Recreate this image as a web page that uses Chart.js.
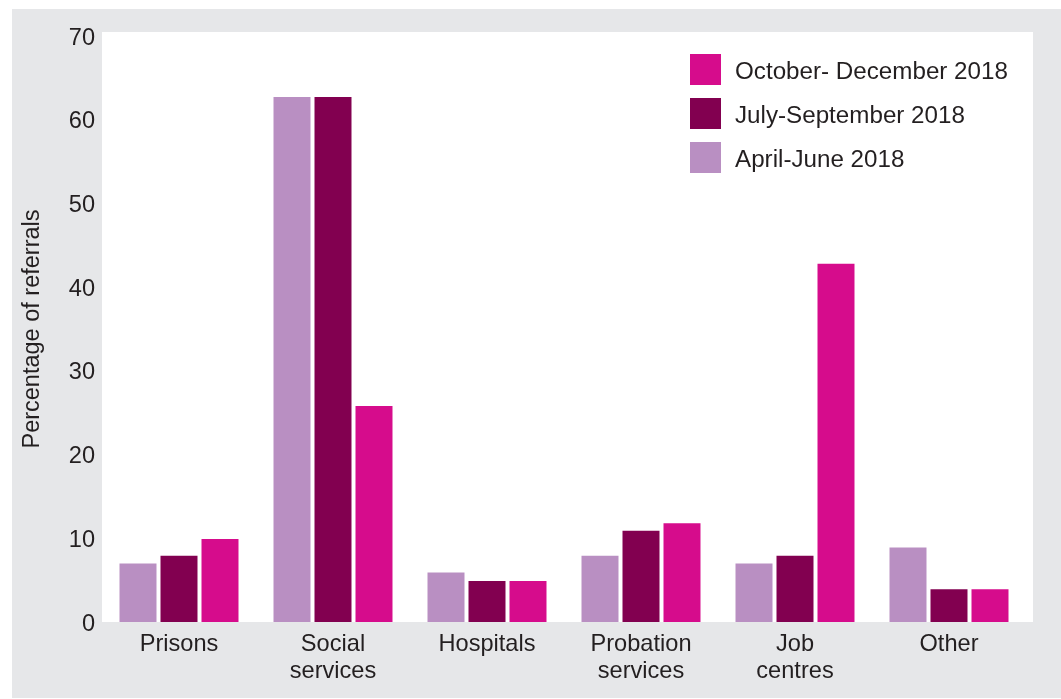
<!DOCTYPE html>
<html>
<head>
<meta charset="utf-8">
<script src="https://cdn.jsdelivr.net/npm/chart.js@4"></script>
<style>
html,body{margin:0;padding:0;background:#ffffff;}
#wrap{position:relative;width:1061px;height:699px;}
</style>
</head>
<body>
<div id="wrap"><canvas id="c" width="1061" height="699"></canvas></div>
<script>
const categories = [["Prisons"], ["Social", "services"], ["Hospitals"], ["Probation", "services"], ["Job", "centres"], ["Other"]];
const seriesNames = ["April-June 2018", "July-September 2018", "October- December 2018"];
const aprJun = [7, 62.7, 5.9, 7.9, 7, 8.9];
const julSep = [7.9, 62.7, 4.9, 10.9, 7.9, 3.9];
const octDec = [9.9, 25.8, 4.9, 11.8, 42.8, 3.9];
const yTicks = [0, 10, 20, 30, 40, 50, 60, 70];
const colors = ["#b98fc2", "#820050", "#d60c8c"];

const FONT = "'Liberation Sans', Arial, Helvetica, sans-serif";
const TEXT = "#231f20";

const bgPlugin = {
  id: 'bg',
  beforeDraw(chart) {
    const ctx = chart.ctx;
    const a = chart.chartArea;
    ctx.save();
    ctx.fillStyle = '#e6e7e9';
    ctx.fillRect(12, 9, chart.width - 12, chart.height - 10);
    ctx.fillStyle = '#ffffff';
    ctx.fillRect(a.left, a.top - 4, a.right - a.left + 7, a.bottom - a.top + 4);
    ctx.restore();
  }
};

const legendPlugin = {
  id: 'customLegend',
  afterDraw(chart) {
    const ctx = chart.ctx;
    ctx.save();
    ctx.font = "24.2px " + FONT;
    ctx.textBaseline = 'middle';
    const ds = chart.data.datasets;
    const order = [2, 1, 0];
    order.forEach((di, i) => {
      const y = 54 + i * 44;
      ctx.fillStyle = ds[di].backgroundColor;
      ctx.fillRect(690, y, 31, 31);
      ctx.fillStyle = TEXT;
      ctx.fillText(ds[di].label, 735, y + 18.5);
    });
    ctx.restore();
  }
};

new Chart(document.getElementById('c'), {
  type: 'bar',
  data: {
    labels: categories,
    datasets: [
      { label: seriesNames[0], data: aprJun, backgroundColor: colors[0] },
      { label: seriesNames[1], data: julSep, backgroundColor: colors[1] },
      { label: seriesNames[2], data: octDec, backgroundColor: colors[2] }
    ]
  },
  options: {
    responsive: false,
    animation: false,
    devicePixelRatio: 1,
    layout: { padding: { left: 0, right: 35, top: 36, bottom: 0 } },
    datasets: { bar: { barPercentage: 0.9024, categoryPercentage: 0.7987, borderWidth: 0 } },
    plugins: { legend: { display: false }, tooltip: { enabled: false } },
    scales: {
      x: {
        grid: { display: false, drawTicks: false },
        border: { display: false },
        ticks: { color: TEXT, font: { family: FONT, size: 23.6, lineHeight: 1.15 }, padding: 9, maxRotation: 0, autoSkip: false },
        afterFit(s) { s.height = 77; }
      },
      y: {
        min: 0, max: 70,
        grid: { display: false, drawTicks: false },
        border: { display: false },
        afterBuildTicks(s) { s.ticks = yTicks.map(v => ({ value: v })); },
        ticks: { color: TEXT, font: { family: FONT, size: 23.6 }, padding: 7, labelOffset: 2 },
        title: { display: true, text: 'Percentage of referrals', color: TEXT, font: { family: FONT, size: 23.5 }, padding: { top: 18, bottom: 0 } },
        afterFit(s) { s.width = 102; }
      }
    }
  },
  plugins: [bgPlugin, legendPlugin]
});
</script>
</body>
</html>
